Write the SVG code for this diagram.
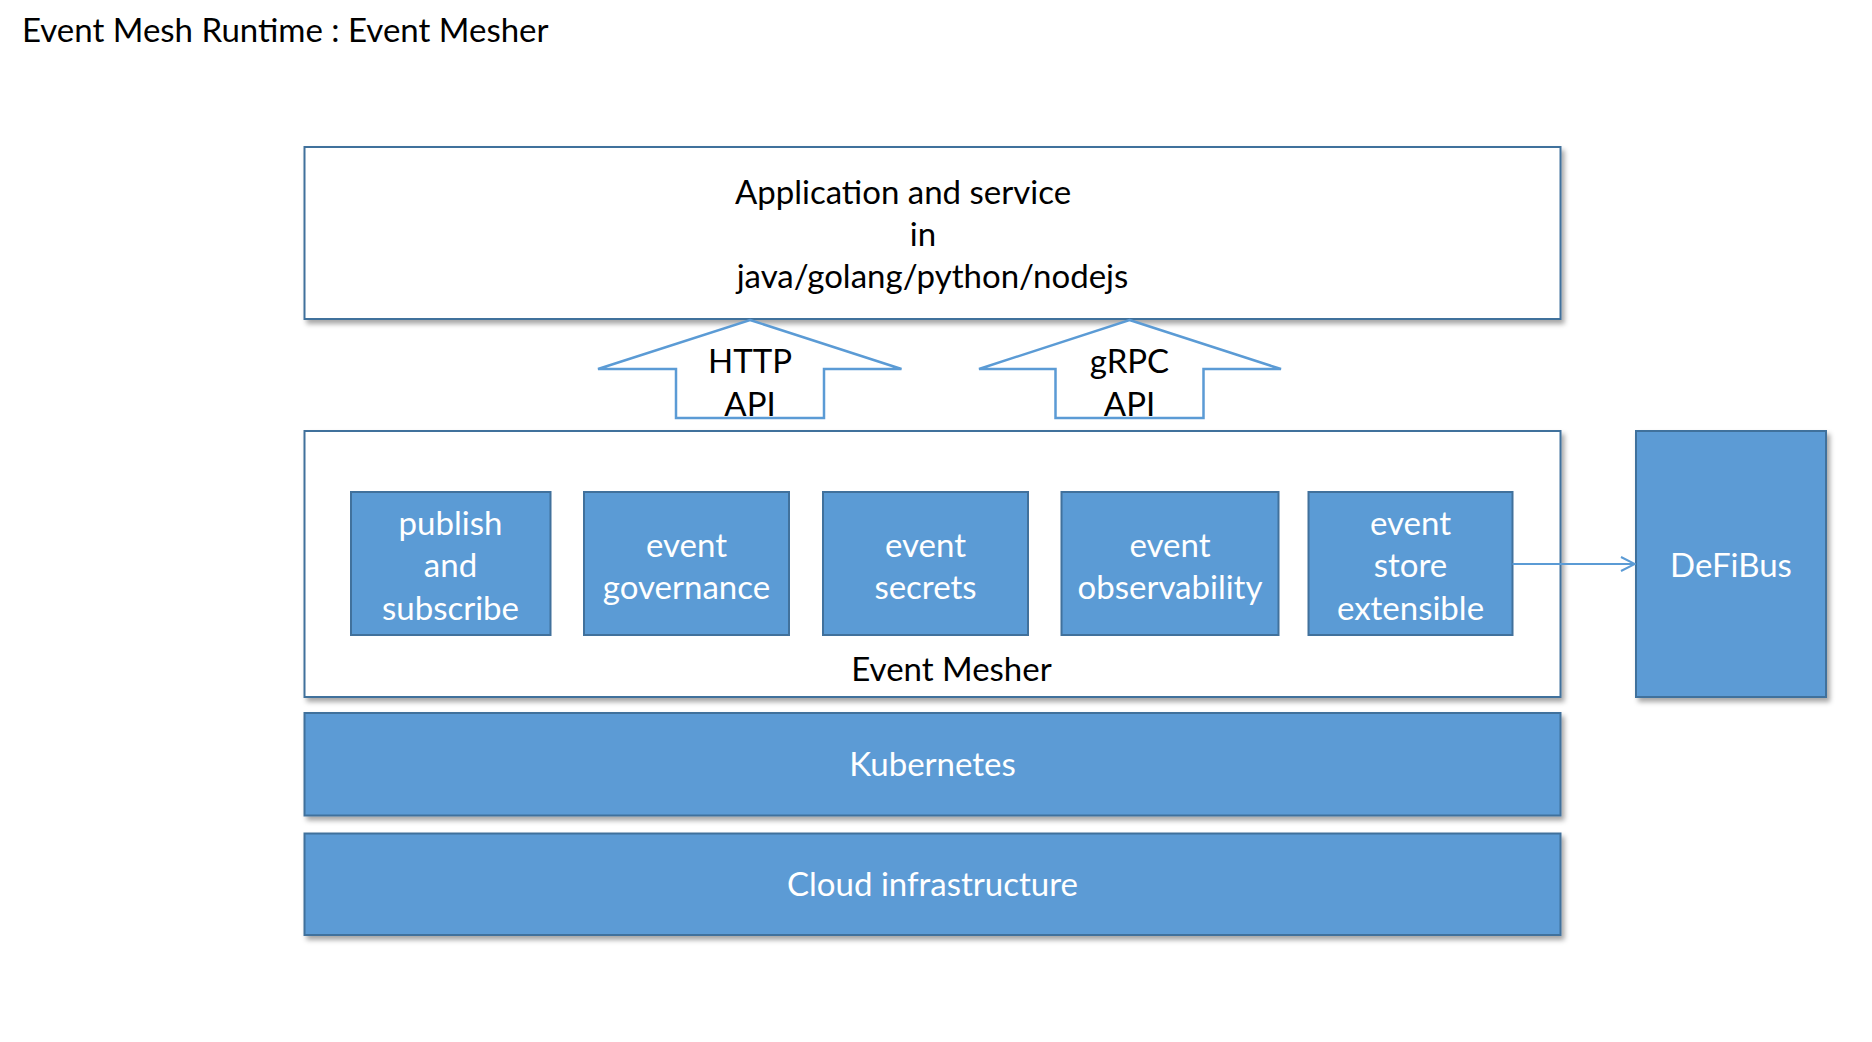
<svg xmlns="http://www.w3.org/2000/svg" width="1872" height="1042" viewBox="0 0 1872 1042">
  <style>
    text { font-family: Lato, "Open Sans", "Liberation Sans", sans-serif; font-size: 33px; }
    .dark { fill: #000000; text-anchor: middle; }
    .light { fill: #FFFFFF; text-anchor: middle; }
    .panel { fill: #FFFFFF; stroke: #41719C; stroke-width: 2; }
    .block { fill: #5B9BD5; stroke: #41719C; stroke-width: 2; }
    .api { fill: #FFFFFF; stroke: #5B9BD5; stroke-width: 2.5; stroke-linejoin: miter; }
    .link { fill: none; stroke: #5B9BD5; stroke-width: 2; }
  </style>
  <defs>
    <filter id="shadow" x="-5%" y="-5%" width="110%" height="120%">
      <feDropShadow dx="3" dy="4" stdDeviation="2.5" flood-color="#000000" flood-opacity="0.35"/>
    </filter>
    <marker id="open" viewBox="0 0 16 16" refX="15" refY="8" markerWidth="16" markerHeight="16" markerUnits="userSpaceOnUse" orient="auto">
      <path d="M1,1 L15,8 L1,15" fill="none" stroke="#5B9BD5" stroke-width="2"/>
    </marker>
  </defs>
  <rect width="1872" height="1042" fill="#FFFFFF"/>

  <text id="title" x="22" y="42">Event Mesh Runtime : Event Mesher</text>

  <g id="app">
    <rect class="panel" x="304.5" y="147" width="1256" height="172" filter="url(#shadow)"/>
    <text class="dark" x="903" y="204">Application and service</text>
    <text class="dark" x="923" y="246">in</text>
    <text class="dark" x="932.5" y="288">java/golang/python/nodejs</text>
  </g>

  <g id="http-api">
    <path class="api" d="M750,320 L901.5,369 L824,369 L824,418 L676,418 L676,369 L598,369 Z"/>
    <text class="dark" x="750" y="373">HTTP</text>
    <text class="dark" x="750" y="416">API</text>
  </g>

  <g id="grpc-api">
    <path class="api" d="M1129.5,320 L1281,369 L1203.5,369 L1203.5,418 L1055.5,418 L1055.5,369 L979,369 Z"/>
    <text class="dark" x="1129.5" y="373">gRPC</text>
    <text class="dark" x="1129.5" y="416">API</text>
  </g>

  <g id="event-mesher">
    <rect class="panel" x="304.5" y="431" width="1256" height="266" filter="url(#shadow)"/>
    <text class="dark" x="951.5" y="681">Event Mesher</text>
  </g>

  <g id="publish-subscribe">
    <rect class="block" x="351" y="492" width="199.5" height="143"/>
    <text class="light" x="450.5" y="535">publish</text>
    <text class="light" x="450.5" y="577">and</text>
    <text class="light" x="450.5" y="620">subscribe</text>
  </g>

  <g id="event-governance">
    <rect class="block" x="584" y="492" width="205" height="143"/>
    <text class="light" x="686.5" y="556.5">event</text>
    <text class="light" x="686.5" y="598.5">governance</text>
  </g>

  <g id="event-secrets">
    <rect class="block" x="823" y="492" width="205" height="143"/>
    <text class="light" x="925.5" y="556.5">event</text>
    <text class="light" x="925.5" y="598.5">secrets</text>
  </g>

  <g id="event-observability">
    <rect class="block" x="1061.5" y="492" width="217" height="143"/>
    <text class="light" x="1170" y="556.5">event</text>
    <text class="light" x="1170" y="598.5">observability</text>
  </g>

  <g id="event-store-extensible">
    <rect class="block" x="1308.5" y="492" width="204" height="143"/>
    <text class="light" x="1410.5" y="535">event</text>
    <text class="light" x="1410.5" y="577">store</text>
    <text class="light" x="1410.5" y="620">extensible</text>
  </g>

  <g id="defibus">
    <rect class="block" x="1636" y="431" width="190" height="266" filter="url(#shadow)"/>
    <text class="light" x="1731" y="577">DeFiBus</text>
  </g>

  <g id="kubernetes">
    <rect class="block" x="304.5" y="713" width="1256" height="102.5" filter="url(#shadow)"/>
    <text class="light" x="932.5" y="776">Kubernetes</text>
  </g>

  <g id="cloud-infrastructure">
    <rect class="block" x="304.5" y="833.5" width="1256" height="101.5" filter="url(#shadow)"/>
    <text class="light" x="932.5" y="896">Cloud infrastructure</text>
  </g>

  <g id="connectors">
    <line class="link" x1="1512.5" y1="564" x2="1635" y2="564" marker-end="url(#open)"/>
  </g>
</svg>
